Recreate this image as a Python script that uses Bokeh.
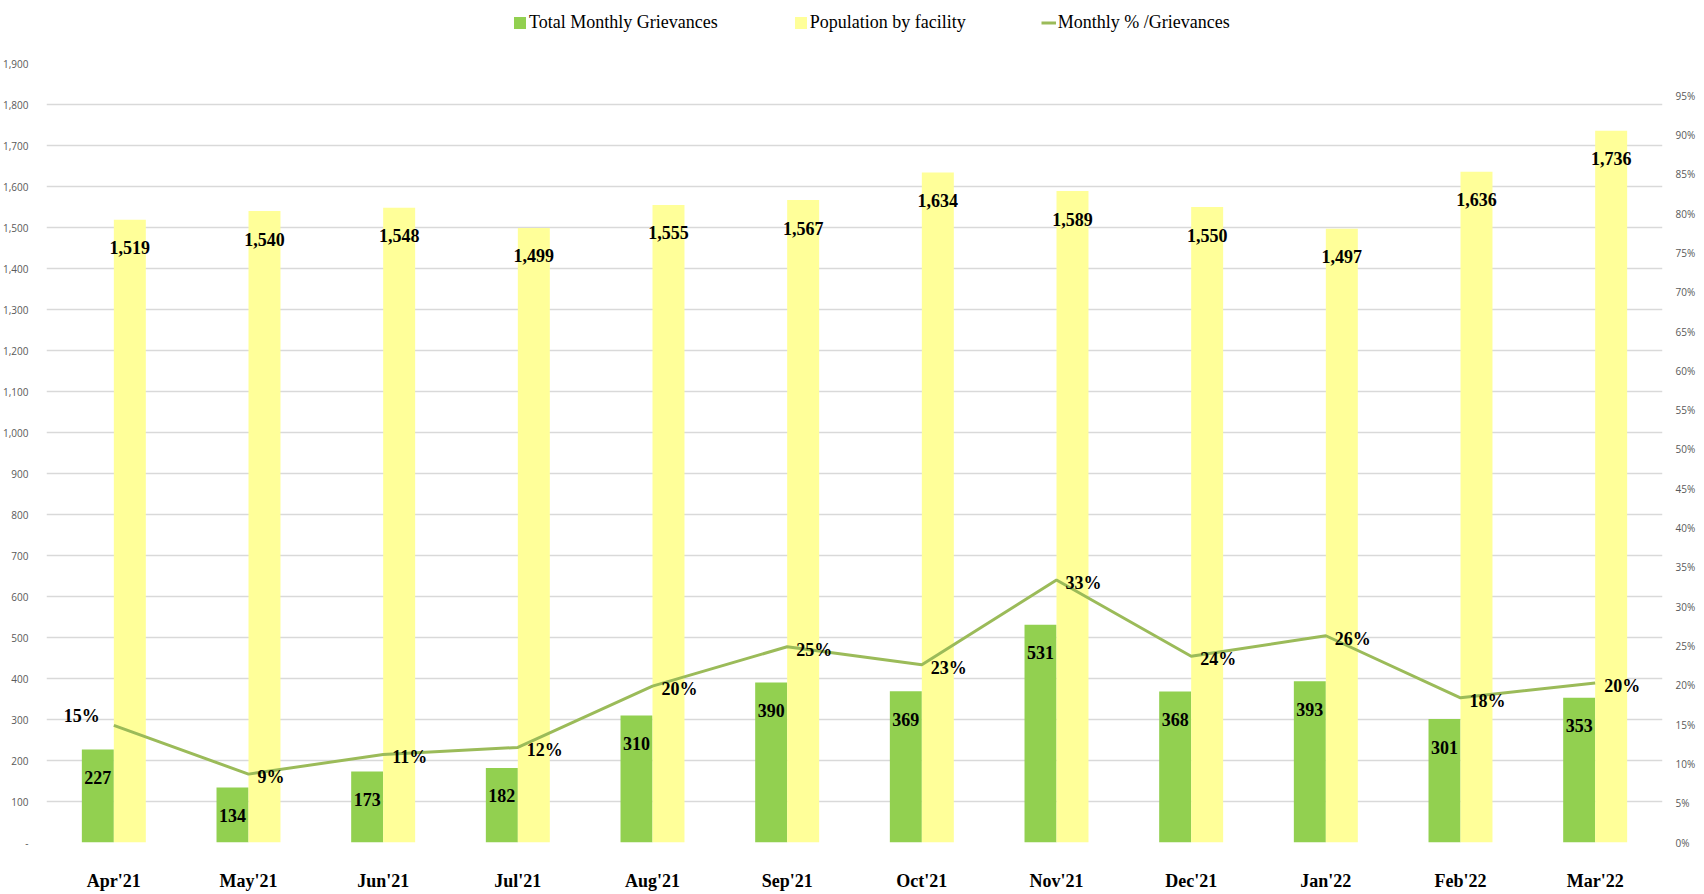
from bokeh.plotting import figure
from bokeh.layouts import column
from bokeh.models import (FactorRange, Range1d, LinearAxis, FixedTicker, NumeralTickFormatter,
                          Legend, LegendItem, ColumnDataSource)
from bokeh.transform import dodge
from bokeh.core.properties import value
from bokeh.embed import file_html
from bokeh.resources import INLINE

months = ["Apr'21", "May'21", "Jun'21", "Jul'21", "Aug'21", "Sep'21",
          "Oct'21", "Nov'21", "Dec'21", "Jan'22", "Feb'22", "Mar'22"]
grievances = [227, 134, 173, 182, 310, 390, 369, 531, 368, 393, 301, 353]
population = [1519, 1540, 1548, 1499, 1555, 1567, 1634, 1589, 1550, 1497, 1636, 1736]
pct = [0.149, 0.087, 0.112, 0.121, 0.199, 0.249, 0.226, 0.334, 0.237, 0.263, 0.184, 0.203]
series_names = ["Total Monthly Grievances", "Population by facility", "Monthly % /Grievances"]
left_ticks = list(range(0, 2000, 100))
right_ticks = [i / 100 for i in range(0, 100, 5)]

GREEN = "#92D050"
YELLOW = "#FFFF99"
LINE = "#9BBB59"

src = ColumnDataSource(dict(
    m=months, g=grievances, pop=population, pct=pct,
    g_lbl=[f"{v:,}" for v in grievances],
    pop_lbl=[f"{v:,}" for v in population],
    pct_lbl=[f"{round(v * 100):d}%" for v in pct],
))
src_first = ColumnDataSource(dict(m=months[:1], pct=pct[:1],
                                  pct_lbl=[f"{round(v * 100):d}%" for v in pct[:1]]))
src_rest = ColumnDataSource(dict(m=months[1:], pct=pct[1:],
                                 pct_lbl=[f"{round(v * 100):d}%" for v in pct[1:]]))

LEG_H = 40
W = 0.2375

# ---------- legend strip (hidden series, legend only) ----------
pl = figure(width=1704, height=LEG_H, output_backend="svg", toolbar_location=None,
            x_range=FactorRange(*months, range_padding=0), y_range=Range1d(0, 2000),
            x_axis_location=None, y_axis_location=None, min_border=0)
pl.outline_line_color = None
pl.xgrid.grid_line_color = None
pl.ygrid.grid_line_color = None
lg = pl.vbar(x="m", top="g", width=W, source=src, fill_color=GREEN, line_color=None)
ly = pl.vbar(x="m", top="pop", width=W, source=src, fill_color=YELLOW, line_color=None)
ll = pl.line(x="m", y="pct", source=src, line_width=3, line_color=LINE)
for r in (lg, ly, ll):
    r.visible = False
legend = Legend(items=[
    LegendItem(label=series_names[0], renderers=[lg]),
    LegendItem(label=series_names[1], renderers=[ly]),
    LegendItem(label=series_names[2], renderers=[ll]),
], orientation="horizontal", location=(466, 7))
legend.label_text_font = "Liberation Serif"
legend.label_text_font_size = "18px"
legend.label_text_color = "#000000"
legend.glyph_width = 15
legend.glyph_height = 15
legend.label_standoff = 2
legend.spacing = 75
legend.padding = 0
legend.margin = 0
legend.label_height = 18
legend.border_line_color = None
legend.background_fill_alpha = 0
legend.inactive_fill_alpha = 0
pl.add_layout(legend)

# ---------- main chart ----------
p = figure(x_range=FactorRange(*months, range_padding=0), y_range=Range1d(0, 1900),
           width=1704, height=894 - LEG_H, output_backend="svg", toolbar_location=None,
           min_border_left=46, min_border_right=42, min_border_top=63 - LEG_H, min_border_bottom=52)
p.outline_line_color = None
p.extra_y_ranges = {"pct": Range1d(0, 0.991)}

SERIF = value("Liberation Serif")

p.yaxis.ticker = FixedTicker(ticks=left_ticks)
p.yaxis.formatter = NumeralTickFormatter(format="0,0")
p.yaxis.major_label_overrides = {0: "-"}
ra = LinearAxis(y_range_name="pct", ticker=FixedTicker(ticks=right_ticks),
                formatter=NumeralTickFormatter(format="0%"))
p.add_layout(ra, "right")
for ax in (p.yaxis[0], ra):
    ax.axis_line_color = None
    ax.major_tick_line_color = None
    ax.minor_tick_line_color = None
    ax.major_label_text_font = "Open Sans"
    ax.major_label_text_font_size = "10px"
    ax.major_label_text_color = "#595959"
p.yaxis[0].major_label_standoff = 12
ra.major_label_standoff = 7
p.xaxis.axis_line_color = None
p.xaxis.major_tick_line_color = None
p.xaxis.major_label_text_font = "Liberation Serif"
p.xaxis.major_label_text_font_style = "bold"
p.xaxis.major_label_text_font_size = "18px"
p.xaxis.major_label_text_color = "#000000"
p.xaxis.major_label_standoff = 22
p.xgrid.grid_line_color = None
p.ygrid.grid_line_color = "#d9d9d9"
p.ygrid.grid_line_width = 1.5

p.vbar(x=dodge("m", -W / 2, range=p.x_range), top="g", width=W, source=src,
       fill_color=GREEN, line_color=None)
p.vbar(x=dodge("m", W / 2, range=p.x_range), top="pop", width=W, source=src,
       fill_color=YELLOW, line_color=None)
p.line(x="m", y="pct", y_range_name="pct", source=src, line_width=3, line_color=LINE)

lbl_kw = dict(text_font=SERIF, text_font_style="bold", text_font_size="18px",
              text_color="#000000", text_baseline="middle")
p.text(x=dodge("m", -W / 2, range=p.x_range), y="g", text="g_lbl", source=src,
       text_align="center", y_offset=28, **lbl_kw)
p.text(x=dodge("m", W / 2, range=p.x_range), y="pop", text="pop_lbl", source=src,
       text_align="center", y_offset=28, **lbl_kw)
p.text(x="m", y="pct", text="pct_lbl", source=src_rest, y_range_name="pct",
       text_align="left", x_offset=9, y_offset=3, **lbl_kw)
p.text(x="m", y="pct", text="pct_lbl", source=src_first, y_range_name="pct",
       text_align="right", x_offset=-14, y_offset=-9, **lbl_kw)

layout = column(pl, p, spacing=0)
open("out.html", "w").write(file_html(layout, INLINE))
